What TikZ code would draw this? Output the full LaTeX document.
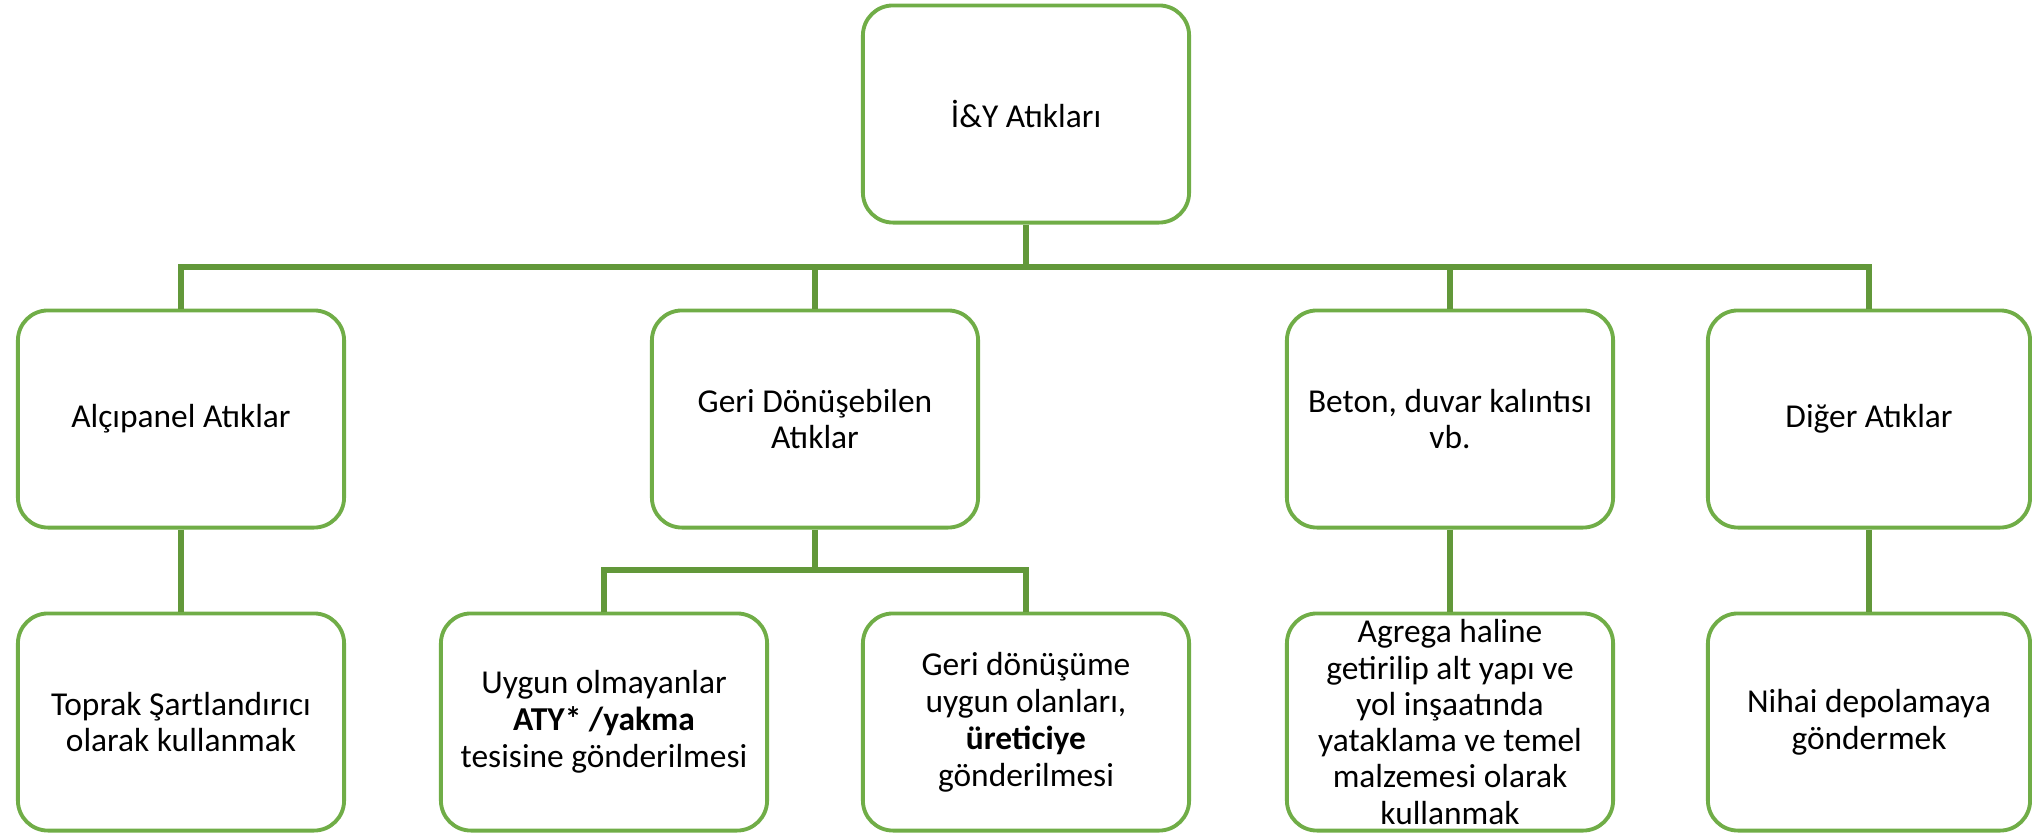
\documentclass[tikz,border=0pt]{standalone}
\usepackage{fontspec}
\setmainfont{Carlito}
\usepackage{tikz}
\usetikzlibrary{positioning}
\definecolor{boxgreen}{RGB}{112,173,71}
\definecolor{linegreen}{RGB}{98,152,58}
\tikzset{
  wastebox/.style={draw=boxgreen, line width=1.1pt, rounded corners=0.3cm, fill=white,
    align=center, minimum width=3.26cm, minimum height=2.17cm,
    inner xsep=2pt, inner ysep=0pt, font=\fontsize{9.5}{10.5}\selectfont},
  link/.style={draw=linegreen, line width=1.6pt}
}

\begin{document}
\begin{tikzpicture}[x=0.01cm, y=-0.01cm]
\useasboundingbox (0,0) rectangle (2032,836);

% Root
\node[wastebox] (root) at (1026,114) {İ\&Y Atıkları};

% Second row
\node[wastebox] (alci)  at (181,419)  {Alçıpanel Atıklar};
\node[wastebox] (geri)  at (815,419)  {Geri Dönüşebilen\\Atıklar};
\node[wastebox] (beton) at (1450,419) {Beton, duvar kalıntısı\\vb.};
\node[wastebox, minimum width=3.22cm] (diger) at (1869,419) {Diğer Atıklar};

% Third row
\node[wastebox] (toprak)  at (181,722)  {Toprak Şartlandırıcı\\olarak kullanmak};
\node[wastebox] (uygun)   at (604,722)  {Uygun olmayanlar\\\textbf{ATY* /yakma}\\tesisine gönderilmesi};
\node[wastebox] (geridon) at (1026,722) {Geri dönüşüme\\uygun olanları,\\\textbf{üreticiye}\\gönderilmesi};
\node[wastebox, font=\fontsize{9.5}{10.3}\selectfont] (agrega) at (1450,722) {Agrega haline\\getirilip alt yapı ve\\yol inşaatında\\yataklama ve temel\\malzemesi olarak\\kullanmak};
\node[wastebox, minimum width=3.22cm] (nihai) at (1869,722) {Nihai depolamaya\\göndermek};

% Bus lines
\coordinate (bus) at (0,267);
\coordinate (sub) at (0,570);

\draw[link] (root.south) -- (root.south |- bus);
\draw[link] (alci.north) -- (alci.north |- bus) -- (diger.north |- bus) -- (diger.north);
\draw[link] (geri.north) -- (geri.north |- bus);
\draw[link] (beton.north) -- (beton.north |- bus);

\draw[link] (geri.south) -- (geri.south |- sub);
\draw[link] (uygun.north) -- (uygun.north |- sub) -- (geridon.north |- sub) -- (geridon.north);

\draw[link] (alci.south) -- (toprak.north);
\draw[link] (beton.south) -- (agrega.north);
\draw[link] (diger.south) -- (nihai.north);

\end{tikzpicture}
\end{document}
